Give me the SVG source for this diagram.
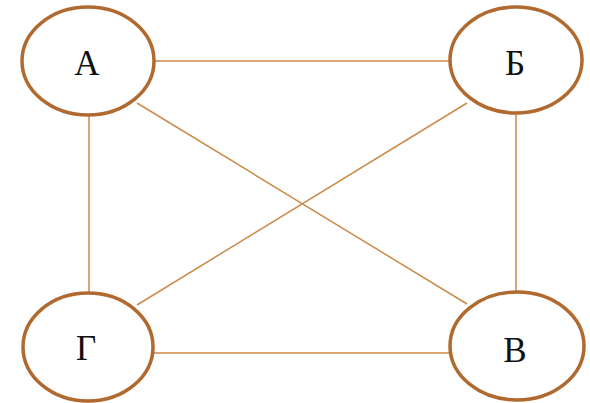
<svg xmlns="http://www.w3.org/2000/svg" width="590" height="403" viewBox="0 0 590 403">
<style>
.n ellipse{fill:#fff;stroke:#b06a30;stroke-width:3.5}
.n text{font-family:"Liberation Serif",serif;font-size:35px;fill:#111;text-anchor:middle}
.e line{stroke:#cc8a48;stroke-width:1.5}
</style>
<rect width="590" height="403" fill="#fff"/>
<g class="e" id="connectors">
<line x1="155" y1="61" x2="450" y2="61"/>
<line x1="154" y1="353" x2="450" y2="353"/>
<line x1="89" y1="115" x2="89" y2="292"/>
<line x1="516" y1="113" x2="516" y2="292"/>
<line x1="137" y1="103" x2="467" y2="304" stroke-width="1"/>
<line x1="467" y1="103" x2="137" y2="305" stroke-width="1"/>
</g>
<g class="n" id="node-A"><ellipse cx="88" cy="61" rx="66" ry="54"/><text x="87" y="75">А</text></g>
<g class="n" id="node-B"><ellipse cx="516" cy="60" rx="66" ry="53"/><text x="515" y="75">Б</text></g>
<g class="n" id="node-G"><ellipse cx="88" cy="347" rx="65" ry="54"/><text x="86" y="360">Г</text></g>
<g class="n" id="node-V"><ellipse cx="517" cy="346" rx="67" ry="54"/><text x="515" y="362">В</text></g>
</svg>
